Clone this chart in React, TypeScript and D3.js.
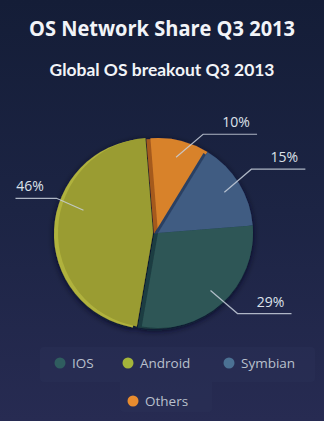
import React from "react";
import * as d3 from "d3";

const W = 324;
const H = 421;

// data
const categories = ["IOS", "Android", "Symbian", "Others"];
const values = [29, 46, 15, 10];
const colors = ["#2d5757", "#9a9c30", "#3f5b82", "#d8822c"];
const sideColors = ["#1f3d42", "#b0b23e", "#2b4062", "#a55a1e"];
const legendColors = ["#2f5d5f", "#a4b53a", "#4b7193", "#e88c2f"];
// clockwise drawing order starting at 12 o'clock
const pieOrder = ["Others", "Symbian", "IOS", "Android"];
const explodedCategory = "Android";
const labelTexts = ["29%", "46%", "15%", "10%"];

const title = "OS Network Share Q3 2013";
const subtitle = "Global OS breakout Q3 2013";

export default function App() {
  const cx = 158;
  const cy = 233;
  const r = 95;
  const start = -0.08;

  const ordered = pieOrder.map((c) => {
    const i = categories.indexOf(c);
    return { cat: c, value: values[i], color: colors[i], side: sideColors[i], label: labelTexts[i] };
  });

  const pie = d3
    .pie<any>()
    .sort(null)
    .value((d: any) => d.value)
    .startAngle(start)
    .endAngle(start + 2 * Math.PI);
  const arcs = pie(ordered);
  const arc = d3.arc<any>().innerRadius(0).outerRadius(r);

  const polar = (a: number, rr: number): [number, number] => [Math.sin(a) * rr, -Math.cos(a) * rr];

  const legendFont = "'Open Sans', 'DejaVu Sans', sans-serif";

  return (
    <svg width={W} height={H} style={{ position: "absolute", left: 0, top: 0 }}>
      <defs>
        <linearGradient id="bg" x1="0" y1="0" x2="0" y2="1">
          <stop offset="0" stopColor="#141d37" />
          <stop offset="0.5" stopColor="#1c2444" />
          <stop offset="1" stopColor="#272b52" />
        </linearGradient>
        <filter id="shadow" x="-30%" y="-30%" width="160%" height="160%">
          <feDropShadow dx="0" dy="2" stdDeviation="3" floodColor="#05081a" floodOpacity="0.85" />
        </filter>
      </defs>
      <rect x={0} y={0} width={W} height={H} fill="url(#bg)" />

      <text
        x={W / 2}
        y={36}
        textAnchor="middle"
        fill="#f2f4f8"
        fontFamily="'Open Sans', 'DejaVu Sans', sans-serif"
        fontWeight="bold"
        fontSize={21}
        textLength={266}
        lengthAdjust="spacingAndGlyphs"
      >
        {title}
      </text>
      <text
        x={W / 2}
        y={76}
        textAnchor="middle"
        fill="#f2f4f8"
        fontFamily="'Lato', 'Open Sans', sans-serif"
        fontWeight="bold"
        fontSize={17}
        textLength={225}
        lengthAdjust="spacingAndGlyphs"
      >
        {subtitle}
      </text>

      <g transform={`translate(${cx},${cy})`}>
        <g filter="url(#shadow)">
          {arcs.map((a, i) => {
            const mid = (a.startAngle + a.endAngle) / 2;
            const off = a.data.cat === explodedCategory ? polar(mid, 5) : [0, 0];
            return (
              <g key={"s" + i} transform={`translate(${off[0]},${off[1]})`}>
                <path d={arc(a) as string} fill={a.data.side} transform="translate(-4,1)" />
                <path d={arc(a) as string} fill={a.data.color} />
              </g>
            );
          })}
        </g>
        {arcs.map((a, i) => {
          const mid = (a.startAngle + a.endAngle) / 2;
          const isEx = a.data.cat === explodedCategory;
          const la = isEx ? mid + 0.25 : mid;
          const p = polar(la, r * 0.82);
          const sx = Math.sin(la) >= 0 ? 1 : -1;
          const sy = -Math.cos(la) >= 0 ? 1 : -1;
          const e: [number, number] = [p[0] + sx * 27, p[1] + sy * (isEx ? 12 : 23)];
          const len = isEx ? 41 : 54;
          const end: [number, number] = [e[0] + sx * len, e[1]];
          const tx = (e[0] + end[0]) / 2 + sx * 6;
          return (
            <g key={"l" + i}>
              <polyline
                points={`${p[0]},${p[1]} ${e[0]},${e[1]} ${end[0]},${end[1]}`}
                fill="none"
                stroke="#c8d0dc"
                strokeWidth={1.2}
                opacity={0.85}
              />
              <text
                x={tx}
                y={e[1] - 7}
                textAnchor="middle"
                fill="#dde2ea"
                fontFamily={legendFont}
                fontSize={14}
              >
                {a.data.label}
              </text>
            </g>
          );
        })}
      </g>

      <g>
        <path
          d="M44,347 H311 Q315,347 315,351 V378 Q315,382 311,382 H212 V408 Q212,412 208,412 H124 Q120,412 120,408 V382 H44 Q40,382 40,378 V351 Q40,347 44,347 Z"
          fill="#2a3055"
          opacity={0.55}
        />
        {categories.map((c, i) => {
          const pos = [
            [60, 363],
            [128, 363],
            [229, 363],
            [133, 401],
          ][i];
          return (
            <g key={"g" + i}>
              <circle cx={pos[0]} cy={pos[1]} r={5.5} fill={legendColors[i]} />
              <text
                x={pos[0] + 12}
                y={pos[1] + 5}
                fill="#b9c0cd"
                fontFamily={legendFont}
                fontSize={13.5}
              >
                {c}
              </text>
            </g>
          );
        })}
      </g>
    </svg>
  );
}
